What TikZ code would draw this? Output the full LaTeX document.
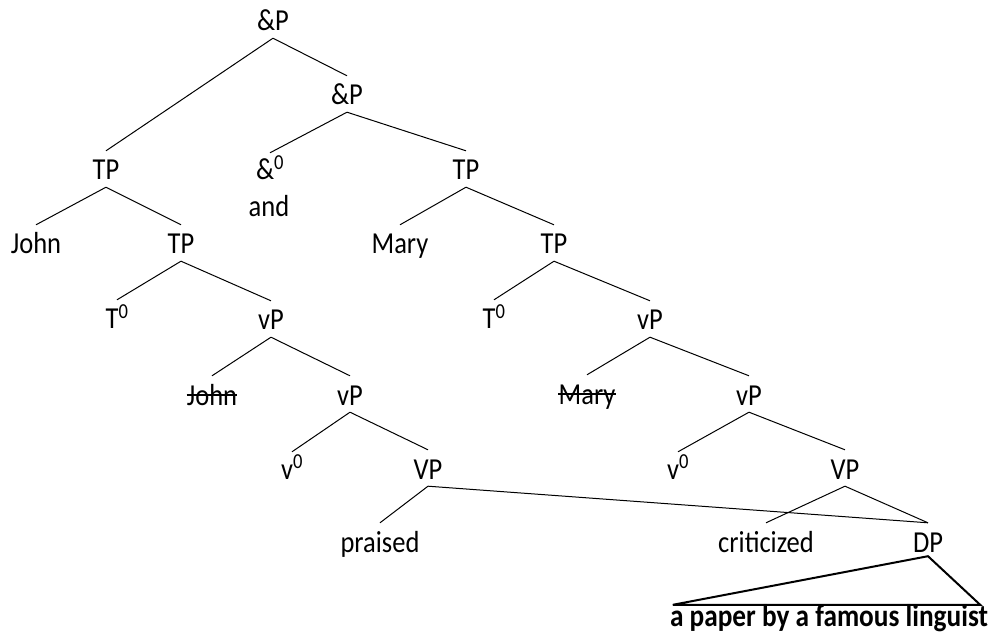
\documentclass[tikz,border=0pt]{standalone}
\usepackage{fontspec}
\setmainfont{Carlito}
\usepackage{graphicx}
\newcommand\tx[1]{\scalebox{1}[1.15]{#1}}
\newcommand\zr{\textsuperscript{0}}
\begin{document}
\begin{tikzpicture}[x=1pt,y=-1pt,
  lbl/.style={anchor=base, inner xsep=0pt, inner ysep=2pt, text height=19pt, text depth=5pt,
              font=\fontsize{26.5}{30}\selectfont},
  branch/.style={line width=1pt},
  strike/.style={line width=1.4pt},
  tri/.style={line width=2pt, line join=miter}]
\useasboundingbox (0,0) rectangle (996,636);
% level 0-1
\node[lbl] (ap1) at (273,31) {\tx{\&P}};
\node[lbl] (ap2) at (347,105) {\tx{\&P}};
% level 2
\node[lbl] (tpL) at (106,180) {\tx{TP}};
\node[lbl] (amp) at (270,180) {\tx{\&\zr}};
\node[lbl] (and) at (269,217) {\tx{and}};
\node[lbl] (tpM) at (466,180) {\tx{TP}};
% level 3
\node[lbl] (john) at (36,254) {\tx{John}};
\node[lbl] (tpL2) at (181,254) {\tx{TP}};
\node[lbl] (mary) at (400,254) {\tx{Mary}};
\node[lbl] (tpR2) at (554,254) {\tx{TP}};
% level 4
\node[lbl] (tL) at (117,329) {\tx{T\zr}};
\node[lbl] (vpL) at (271,330) {\tx{vP}};
\node[lbl] (tR) at (494,329) {\tx{T\zr}};
\node[lbl] (vpR) at (650,330) {\tx{vP}};
% level 5
\node[lbl] (johnS) at (212,405) {\tx{John}};
\node[lbl] (vpL2) at (350,405) {\tx{vP}};
\node[lbl] (maryS) at (587,404) {\tx{Mary}};
\node[lbl] (vpR2) at (749,405) {\tx{vP}};
% level 6
\node[lbl] (vL) at (292,479) {\tx{v\zr}};
\node[lbl] (VPL) at (428,479) {\tx{VP}};
\node[lbl] (vR) at (678,479) {\tx{v\zr}};
\node[lbl] (VPR) at (845,479) {\tx{VP}};
% level 7
\node[lbl] (praised) at (380,552) {\tx{praised}};
\node[lbl] (crit) at (766,552) {\tx{criticized}};
\node[lbl] (dp) at (928,552) {\tx{DP}};
% level 8
\node[lbl, font=\fontsize{27.3}{30}\selectfont\bfseries] (paper) at (829,626) {\tx{a paper by a famous linguist}};

% strikes
\draw[strike] ([yshift=10pt]johnS.base west) -- ([yshift=10pt]johnS.base east);
\draw[strike] ([yshift=10pt]maryS.base west) -- ([yshift=10pt]maryS.base east);

% branches
\draw[branch] (ap1.south) -- ([yshift=8pt]tpL.north);
\draw[branch] (ap1.south) -- ([yshift=8pt]ap2.north);
\draw[branch] (ap2.south) -- ([yshift=6pt]amp.north);
\draw[branch] (ap2.south) -- ([yshift=8pt]tpM.north);
\draw[branch] (tpL.south) -- ([yshift=8pt]john.north);
\draw[branch] (tpL.south) -- ([yshift=8pt]tpL2.north);
\draw[branch] (tpM.south) -- ([yshift=8pt]mary.north);
\draw[branch] (tpM.south) -- ([yshift=8pt]tpR2.north);
\draw[branch] (tpL2.south) -- ([yshift=8pt]tL.north);
\draw[branch] (tpL2.south) -- ([yshift=8pt]vpL.north);
\draw[branch] (tpR2.south) -- ([yshift=8pt]tR.north);
\draw[branch] (tpR2.south) -- ([yshift=8pt]vpR.north);
\draw[branch] (vpL.south) -- ([yshift=8pt]johnS.north);
\draw[branch] (vpL.south) -- ([yshift=8pt]vpL2.north);
\draw[branch] (vpR.south) -- ([yshift=8pt]maryS.north);
\draw[branch] (vpR.south) -- ([yshift=8pt]vpR2.north);
\draw[branch] (vpL2.south) -- ([yshift=6pt]vL.north);
\draw[branch] (vpL2.south) -- ([yshift=8pt]VPL.north);
\draw[branch] (vpR2.south) -- ([yshift=6pt]vR.north);
\draw[branch] (vpR2.south) -- ([yshift=8pt]VPR.north);
\draw[branch] (VPL.south) -- ([yshift=8pt]praised.north);
\draw[branch] (VPL.south) -- ([yshift=8pt]dp.north);
\draw[branch] (VPR.south) -- ([yshift=8pt]crit.north);
\draw[branch] (VPR.south) -- ([yshift=8pt]dp.north);
% triangle
\draw[tri] ([yshift=3pt]dp.south) -- ([xshift=3pt]paper.north west) -- ([xshift=-8pt]paper.north east) -- cycle;
\end{tikzpicture}
\end{document}
